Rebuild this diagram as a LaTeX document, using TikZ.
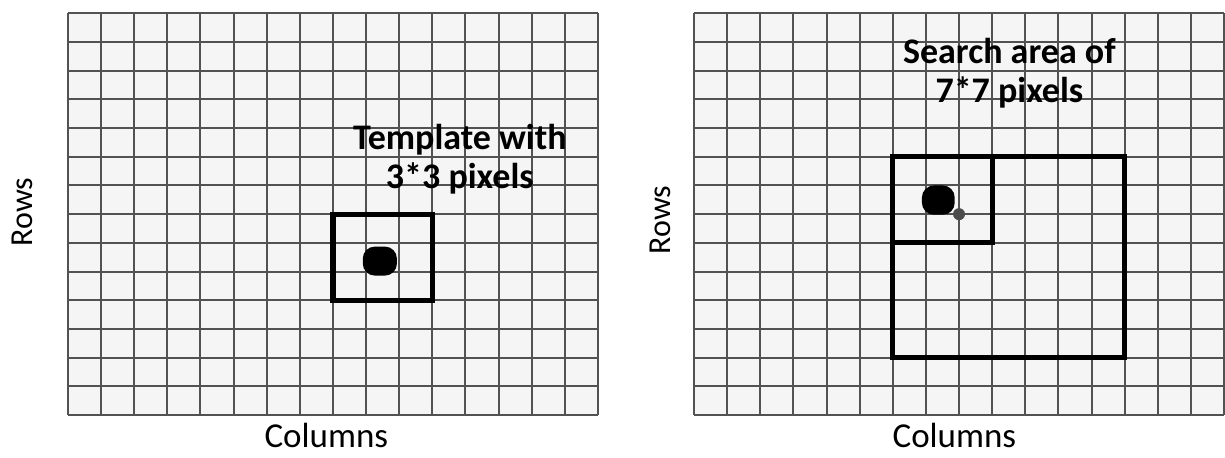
\documentclass[tikz,border=0pt]{standalone}
\usepackage{fontspec}
\setmainfont{Carlito}
\usetikzlibrary{positioning}

\tikzset{
  gridline/.style={line width=1pt,draw=black!68},
  winbox/.style={line width=2.6pt,draw=black,line join=miter},
  pixdot/.style={fill=black,rounded corners=6pt},
  boldlbl/.style={font=\fontsize{18}{19.5}\selectfont\bfseries,align=center},
  axislbl/.style={font=\fontsize{17.5}{20}\selectfont,inner sep=0pt},
  rowlbl/.style={font=\fontsize{16}{20}\selectfont,inner sep=0pt,rotate=90}
}

\begin{document}
\begin{tikzpicture}[x=16.5625pt,y=14.35pt]
 \useasboundingbox (-2.053,-1.463) rectangle (34.93,14.463);
 % left panel: template
 \fill[black!4] (0,0) rectangle (16,14);
 \foreach \x in {0,...,16} {\draw[gridline] (\x,0)--(\x,14);}
 \foreach \y in {0,...,14} {\draw[gridline] (0,\y)--(16,\y);}
 \fill[pixdot] (8.9,4.86) rectangle (9.93,5.87);
 \draw[winbox] (8,4) rectangle (11,7);
 \node[boldlbl] (tmpl) at (11.83,8.9) {Template with\\3*3 pixels};
 \node[rowlbl] (rowsL) at (-1.37,7.08) {Rows};
 \node[axislbl] (colsL) at (7.8,-0.7) {Columns};
 % right panel: search area
 \begin{scope}[xshift=18.9*16.5625pt]
  \fill[black!4] (0,0) rectangle (16,14);
  \foreach \x in {0,...,16} {\draw[gridline] (\x,0)--(\x,14);}
  \foreach \y in {0,...,14} {\draw[gridline] (0,\y)--(16,\y);}
  \fill[pixdot] (6.88,6.98) rectangle (7.87,8.0);
  \fill[black!70] (8,7) circle(3pt);
  \draw[winbox] (6,2) rectangle (13,9);
  \draw[winbox] (6,6) -- (9,6) -- (9,9);
  \node[boldlbl] (search) at (9.52,11.9) {Search area of\\7*7 pixels};
  \node[rowlbl] (rowsR) at (-1.02,6.8) {Rows};
  \node[axislbl] (colsR) at (7.86,-0.7) {Columns};
 \end{scope}
\end{tikzpicture}
\end{document}
